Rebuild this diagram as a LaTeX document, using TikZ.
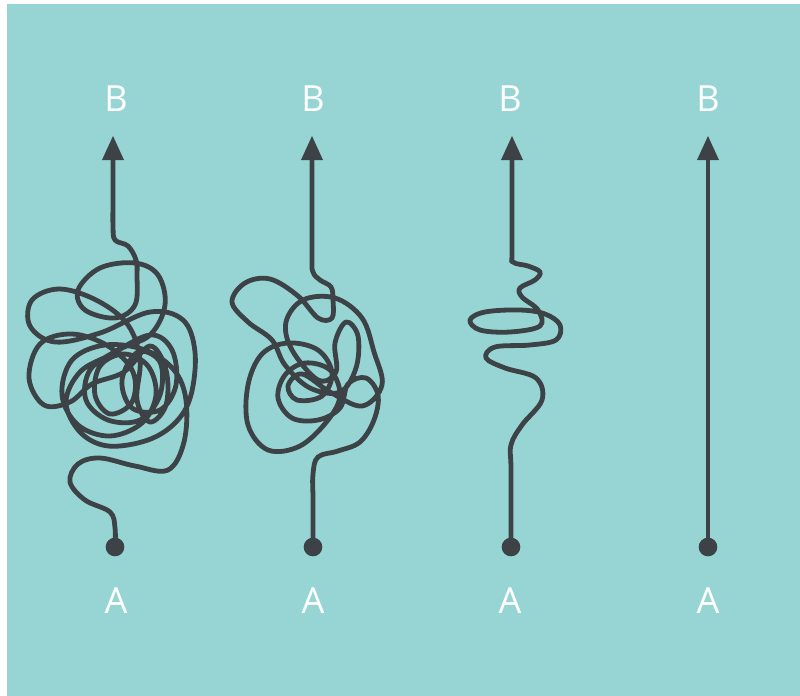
\documentclass[tikz,border=0pt]{standalone}
\usepackage{fontspec}
\setmainfont{Open Sans}
\begin{document}
\begin{tikzpicture}[x=0.75pt,y=-0.75pt,
  path/.style={draw=ink,line width=3.6pt,line cap=round,line join=round},
  tip/.style={fill=ink},
  startdot/.style={circle,fill=ink,inner sep=0pt,minimum size=14pt},
  lab/.style={text=white,font=\fontsize{27}{27}\selectfont,inner sep=0pt}]
\definecolor{teal}{RGB}{151,213,212}
\definecolor{ink}{RGB}{60,66,69}
\useasboundingbox (0,0) rectangle (800,696);
\fill[white] (0,0) rectangle (800,696);
\fill[teal] (7,4) rectangle (800,696);

% column 1
\draw[path] plot[smooth,tension=0.6] coordinates {(115,547) (115,528) (110,512) (85,500) (70,482) (78,464) (100,458) (135,466) (168,470) (184,442) (186,400) (174,370) (145,350) (105,345) (72,360) (62,395) (78,425) (110,436) (142,423) (156,395) (148,366) (124,354) (100,366) (95,395) (110,414) (132,402) (133,372) (108,346) (72,334) (40,344) (29,378) (44,405) (70,402) (92,384) (124,372) (150,346) (166,370) (166,405) (150,422) (137,400) (140,360) (128,325) (98,301) (60,289) (32,300) (30,326) (55,342) (100,333) (150,312) (183,320) (195,352) (191,395) (176,422) (148,440) (108,446) (80,432) (66,402) (80,372) (110,355) (150,335) (172,350) (176,385) (160,410) (132,408) (122,380) (138,352) (160,362) (160,395) (140,420) (108,420) (86,400) (90,370) (118,350) (150,335) (165,305) (158,275) (135,263) (100,268) (78,290) (85,310) (115,318) (135,305) (137,275) (136,260) (128,246) (115,240) (113,226) (113,200) (113,158)};
\fill[tip] (102,160) -- (113,136) -- (124,160) -- cycle;
\node[startdot] (a1) at (115,547) {};
\node[lab] (la1) at (116,601) {A};
\node[lab] (lb1) at (116,99) {B};

% column 2
\draw[path] plot[smooth,tension=0.6] coordinates {(313,547) (313,500) (313,474) (318,457) (338,451) (360,442) (374,420) (378,395) (366,378) (348,384) (340,408) (318,420) (292,418) (278,398) (285,375) (305,363) (330,370) (340,395) (328,420) (300,446) (268,450) (248,425) (248,385) (262,354) (288,343) (318,350) (332,373) (322,396) (297,400) (288,386) (302,374) (330,392) (362,406) (382,385) (374,352) (362,318) (335,298) (303,300) (286,322) (292,350) (318,380) (336,372) (335,343) (346,322) (358,336) (356,368) (340,392) (310,388) (285,365) (272,340) (248,322) (232,302) (245,283) (270,279) (298,296) (318,318) (332,318) (333,300) (331,287) (320,280) (313,272) (312,255) (312,158)};
\fill[tip] (301,160) -- (312,136) -- (323,160) -- cycle;
\node[startdot] (a2) at (313,547) {};
\node[lab] (la2) at (313,601) {A};
\node[lab] (lb2) at (313,99) {B};

% column 3
\draw[path] plot[smooth,tension=0.6] coordinates {(511,547) (511,470) (511,445) (522,425) (542,400) (536,378) (505,368) (486,358) (495,347) (530,345) (556,340) (560,325) (545,314) (520,310) (485,312) (470,320) (480,330) (510,332) (540,326) (538,310) (522,297) (520,288) (535,280) (540,272) (528,266) (513,262) (512,250) (512,158)};
\fill[tip] (501,160) -- (512,136) -- (523,160) -- cycle;
\node[startdot] (a3) at (511,547) {};
\node[lab] (la3) at (510,601) {A};
\node[lab] (lb3) at (510,99) {B};

% column 4
\node[startdot] (a4) at (708,547) {};
\coordinate (t4) at (708,158);
\draw[path] (a4.center) -- (t4);
\fill[tip] (697,160) -- (708,136) -- (719,160) -- cycle;
\node[lab] (la4) at (708,601) {A};
\node[lab] (lb4) at (708,99) {B};
\end{tikzpicture}
\end{document}
